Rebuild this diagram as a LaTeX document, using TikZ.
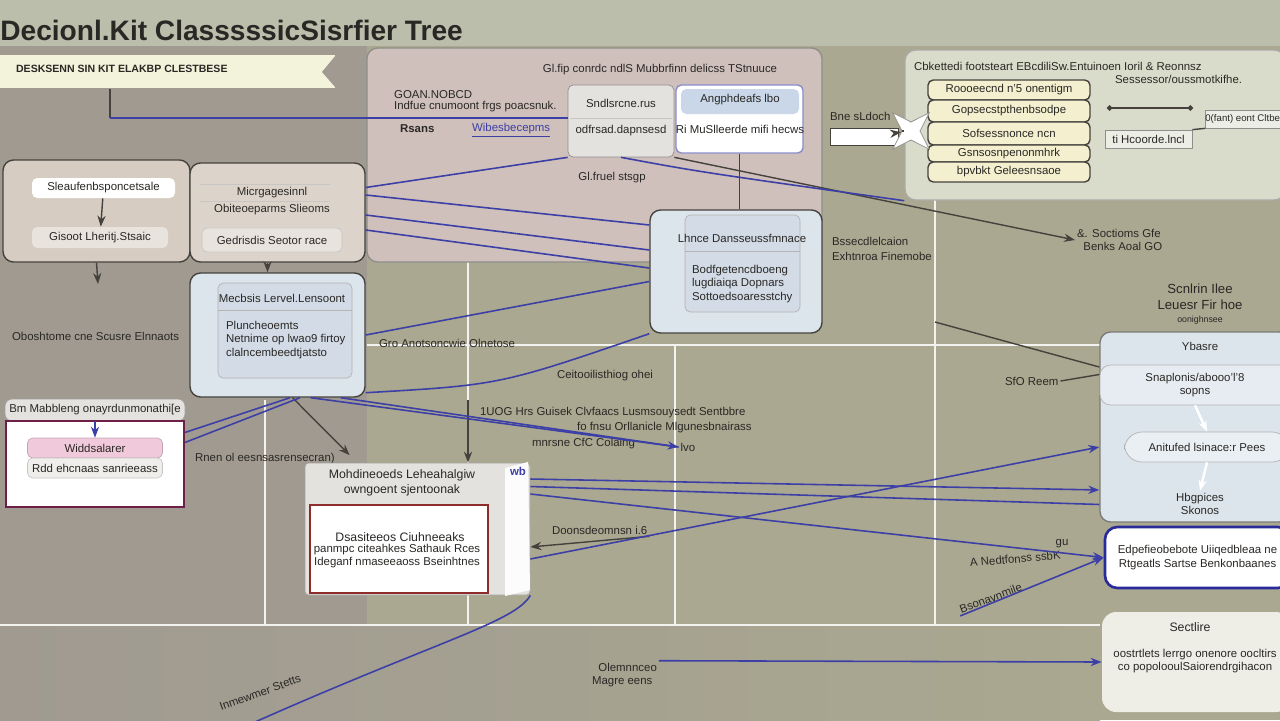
\documentclass[tikz,border=0pt]{standalone}
\usepackage{fontspec}
\setsansfont{Liberation Sans}
\usetikzlibrary{arrows.meta,positioning,calc,shapes.geometric}
\definecolor{ink}{HTML}{2A2825}
\definecolor{edge}{HTML}{45423D}
\definecolor{olive}{HTML}{AAA890}
\definecolor{band}{HTML}{BCBEAC}
\definecolor{warm}{HTML}{A09A91}
\definecolor{ribbon}{HTML}{F3F2DA}
\definecolor{pinkp}{HTML}{CFC0BC}
\definecolor{tan}{HTML}{D6CCC2}
\definecolor{rpan}{HTML}{DADCCB}
\definecolor{yrowc}{HTML}{F3EFCF}
\definecolor{bluebox}{HTML}{DCE4EC}
\definecolor{bluein}{HTML}{D2DBE6}
\definecolor{lblue}{HTML}{C9D7E9}
\definecolor{wire}{HTML}{3C3FA6}
\definecolor{wire2}{HTML}{2A2B9A}
\definecolor{redb}{HTML}{8E2B2B}
\definecolor{crimson}{HTML}{6E1F45}
\definecolor{pinkrow}{HTML}{F0C9DA}
\definecolor{kgray}{HTML}{E4E2DE}
\definecolor{nfill}{HTML}{EEEEE6}
\newcommand{\tinyfont}{\fontsize{6.5}{7.8}\selectfont}
\tikzset{
  font=\sffamily\tinyfont,
  wh/.style 2 args={minimum width=#1*0.02cm, minimum height=#2*0.02cm},
  panel/.style={draw=edge, rounded corners=6pt, line width=0.8pt, inner sep=0pt},
  box/.style={draw=edge!60, rounded corners=3pt, fill=white, inner sep=0pt, text=ink, align=center},
  yrow/.style={box, fill=yrowc, draw=edge, line width=0.8pt},
  txt/.style={text=ink, inner sep=1pt},
  bline/.style={draw=wire, line width=0.9pt},
  dline/.style={draw=edge, line width=0.8pt},
  arrow/.style={-{Stealth[length=2.2mm]}},
  gridline/.style={draw=white!85!olive, line width=0.9pt},
}

\begin{document}
\begin{tikzpicture}[x=0.02cm, y=-0.02cm]
% backdrop
\useasboundingbox (0,0) rectangle (1280,720);
\fill[olive] (0,0) rectangle (1280,720);
\fill[band] (0,0) rectangle (1280,46);
\fill[warm] (0,46) rectangle (367,625);
\shade[left color=warm, right color=olive] (0,625) rectangle (1100,720);
\foreach \y/\a/\b in {345/367/1100, 625/0/1100} {\draw[gridline] (\a,\y) -- (\b,\y);}
\foreach \x/\a/\b in {265/400/625, 468/262/625, 675/345/625, 935/200/625} {\draw[gridline] (\x,\a) -- (\x,\b);}

\node[anchor=west, inner sep=0pt, text=ink, font=\sffamily\bfseries\fontsize{16}{18}\selectfont] (title) at (0,30) {Decionl.Kit ClasssssicSisrfier Tree};

% ribbon
\node[fill=ribbon, wh={335}{33}, inner sep=0pt, anchor=north west] (banner) at (0,55) {};
\fill[warm] (336,55) -- (322,72) -- (336,88) -- cycle;
\node[txt, anchor=west, font=\sffamily\bfseries\fontsize{6}{7}\selectfont] (bantxt) at (14,69) {DESKSENN SIN KIT ELAKBP CLESTBESE};

% pink panel
\node[panel, fill=pinkp, draw=edge!60, wh={455}{214}] (pinkp) at (594.5,155) {};
\node[txt] (hdrA) at (660,70) {Gl.fip conrdc ndlS Mubbrfinn delicss TStnuuce};
\node[txt, anchor=west] (goan) at (392,95) {GOAN.NOBCD};
\node[txt, anchor=west] (indf) at (392,107) {Indfue cnumoont frgs poacsnuk.};
\node[txt, anchor=west, font=\sffamily\bfseries\tinyfont] (rsans) at (398,129) {Rsans};
\node[txt, anchor=west, text=wire] (wibes) at (470,130) {\underline{Wibesbecepms}};
\node[box, fill=kgray, wh={106}{72}] (boxA) at (621,121) {};
\node[txt] (a1) at (621,103) {Sndlsrcne.rus};
\node[txt] (a2) at (621,131) {odfrsad.dapnsesd};
\draw[edge!30] (570,118) -- (672,118);
\node[box, draw=wire!60, line width=0.8pt, wh={127}{68}] (boxB) at (739.5,119) {};
\fill[lblue, rounded corners=3pt] (681,89) rectangle (799,114);
\node[txt] (b1) at (740,100) {Angphdeafs lbo};
\node[txt] (b2) at (740,129) {Ri MuSlleerde mifi hecws};
\node[txt] (glf) at (612,178) {Gl.fruel stsgp};

% right panel
\node[panel, fill=rpan, draw=edge!45, wh={380}{150}] (rpanel) at (1095,125) {};
\node[txt, anchor=west] (hdrR) at (912,66) {Cbkettedi footsteart EBcdiliSw.Entuinoen Ioril \& Reonnsz};
\node[txt, anchor=west] (sess) at (1113,79) {Sessessor/oussmotkifhe.};
\foreach \n/\y/\h/\t in {1/90/20/{Roooeecnd n'5 onentigm}, 2/111/22/{Gopsecstpthenbsodpe}, 3/133.5/23/{Sofsessnonce ncn}, 4/153.5/17/{Gsnsosnpenonmhrk}, 5/172/20/{bpvbkt Geleesnsaoe}}
  {\node[yrow, wh={162}{\h}] (y\n) at (1009,\y) {\t};}
\coordinate (r1) at (1107,108);
\coordinate (r2) at (1193,108);
\draw[dline, {Circle[length=3pt]}-{Circle[length=3pt]}] (r1) -- (r2);
\node[box, rounded corners=0pt, fill=rpan!50!white, wh={73}{18}, anchor=west, font=\sffamily\fontsize{5.5}{6.5}\selectfont] (boxC) at (1205,119) {0(fant) eont Cltbe};
\node[box, rounded corners=0pt, fill=rpan!50!white, wh={87}{18}] (boxD) at (1148.5,139) {ti Hcoorde.lncl};
\draw[dline] (boxD.north east) -- (boxC.south west);

% left panels
\node[panel, fill=tan, wh={187}{102}] (panE) at (96.5,211) {};
\node[box, draw=none, wh={143}{20}] (e1) at (103.5,188) {Sleaufenbsponcetsale};
\node[box, draw=none, fill=tan!55!white, wh={136}{21}] (e2) at (100,237.5) {Gisoot Lheritj.Stsaic};
\node[panel, fill=tan!85!white, wh={175}{99}] (panF) at (277.5,212.5) {};
\node[txt] (f1) at (272,193) {Micrgagesinnl};
\node[txt] (f2) at (272,210) {Obiteoeparms Slieoms};
\node[box, fill=tan!55!white, draw=edge!30, wh={140}{24}] (f3) at (272,240) {Gedrisdis Seotor race};
\draw[edge!30] (200,184) -- (330,184) (200,201) -- (330,201);

\node[panel, fill=bluebox, wh={175}{124}] (boxG) at (277.5,335) {};
\node[box, fill=bluein, draw=edge!40, wh={134}{95}] (gin) at (285,330.5) {};
\node[txt] (g1) at (282,298) {Mecbsis Lervel.Lensoont};
\draw[edge!40] (218,310) -- (352,310);
\node[txt, anchor=west, align=left] (g2) at (224,340) {Pluncheoemts\\Netnime op lwao9 firtoy\\clalncembeedtjatsto};

\node[panel, fill=bluebox, wh={172}{123}] (boxH) at (736,271.5) {};
\node[box, fill=bluein, draw=edge!40, wh={115}{97}] (hin) at (742.5,263.5) {};
\node[txt] (h1) at (742,238) {Lhnce Dansseussfmnace};
\draw[edge!40] (685,251) -- (800,251);
\node[txt, anchor=west, align=left] (h2) at (690,284) {Bodfgetencdboeng\\lugdiaiqa Dopnars\\Sottoedsoaresstchy};

% loose labels
\node[txt, anchor=west, align=left] (bssec) at (830,249) {Bssecdlelcaion\\[1pt]Exhtnroa Finemobe};
\node[txt, anchor=west, align=left] (soct) at (1075,240) {\&. Soctioms Gfe\\\ \ Benks Aoal GO};
\node[txt, anchor=west] (bne) at (828,116) {Bne sLdoch};
\node[box, rounded corners=0pt, draw=edge, wh={68}{17}] (wbox) at (864,137) {};
\node[star, star points=4, star point ratio=0.35, fill=white, draw=edge!60, minimum size=0.36cm, inner sep=0pt] (spark) at (911,131) {};
\node[txt, anchor=west] (obos) at (10,336) {Oboshtome cne Scusre Elnnaots};
\node[txt, anchor=west] (gro) at (377,343) {Gro Anotsoncwie Olnetose};
\node[txt, anchor=west] (ceit) at (555,376) {Ceitooilisthiog ohei};
\node[txt, anchor=west] (rnen) at (193,459) {Rnen ol eesnsasrensecran)};
\node[txt, anchor=west] (uog) at (478,413) {1UOG Hrs Guisek Clvfaacs Lusmsouysedt Sentbbre};
\node[txt, anchor=west] (fofn) at (575,428) {fo fnsu Orllanicle Mlgunesbnairass};
\node[txt, anchor=west] (hirs) at (530,444) {mnrsne CfC Colaing};
\node[txt] (lvo) at (688,447) {lvo};
\node[txt, anchor=west] (doon) at (550,530) {Doonsdeomnsn i.6};
\node[txt, align=center, font=\sffamily\fontsize{7.5}{9}\selectfont] (scn) at (1200,297) {Scnlrin Ilee\\Leuesr Fir hoe};
\node[txt, font=\sffamily\fontsize{5}{6}\selectfont] (oon) at (1200,320) {oonighnsee};
\node[txt, anchor=west] (sfo) at (1003,381) {SfO Reem};
\node[txt] (gu) at (1062,544) {gu};
\node[txt, anchor=west, rotate=5] (nedt) at (968,563) {A Nedtfonss ssbK};
\node[txt, anchor=west, rotate=20] (bson) at (958,610) {Bsonavnmile};
\node[txt, align=left, anchor=west] (olem) at (590,675) {\ \ Olemnnceo\\Magre eens};
\node[txt, anchor=west, rotate=20] (inme) at (218,708) {Inmewmer Stetts};

% bottom left
\node[box, fill=kgray, draw=edge!50, rounded corners=4pt, wh={180}{22}] (jtab) at (95,410) {Bm Mabbleng onayrdunmonathi[e};
\node[box, draw=crimson, line width=1.2pt, rounded corners=0pt, wh={178}{86}] (boxJ) at (95,464) {};
\node[box, fill=pinkrow, draw=crimson!40, wh={135}{20}] (j1) at (95,448) {Widdsalarer};
\node[box, fill=kgray!60!white, draw=edge!30, wh={135}{20}] (j2) at (95,468) {Rdd ehcnaas sanrieeass};

\node[box, fill=kgray, draw=edge!50, rounded corners=2pt, wh={225}{132}] (boxK) at (417.5,529) {};
\fill[white!90!kgray] (505,468) -- (528,462) -- (530,590) -- (505,596) -- cycle;
\node[txt, align=center, font=\sffamily\fontsize{7}{8.5}\selectfont] (k1) at (402,483) {Mohdineoeds Leheahalgiw\\owngoent sjentoonak};
\node[box, draw=redb, line width=1.2pt, rounded corners=0pt, wh={178}{88}] (kin) at (399,549) {};
\node[txt, font=\sffamily\fontsize{7}{8.5}\selectfont] (k2) at (400,537) {Dsasiteeos Ciuhneeaks};
\node[txt, align=center] (k3) at (397,556) {panmpc citeahkes Sathauk Rces\\Ideganf nmaseeaoss Bseinhtnes};
\node[txt, text=wire, font=\sffamily\bfseries\tinyfont] (wb) at (518,471) {wb};

% right stack
\node[panel, fill=bluebox, draw=edge!70, wh={190}{190}] (boxL) at (1195,427) {};
\node[txt] (l1) at (1200,346) {Ybasre};
\node[box, fill=bluebox!70!white, draw=edge!40, rounded corners=6pt, wh={190}{40}, align=center] (l2) at (1195,385) {Snaplonis/abooo'l'8\\sopns};
\node[box, fill=bluebox!60!white, draw=edge!40, rounded corners=10pt, wh={165}{30}] (l3) at (1207,447) {Anitufed lsinace:r Pees};
\node[txt, align=center] (l4) at (1200,504) {Hbgpices\\Skonos};
\node[box, draw=wire2, line width=1.5pt, rounded corners=7pt, wh={185}{61}] (boxM) at (1197.5,557.5) {Edpefieobebote Uiiqedbleaa ne\\Rtgeatls Sartse Benkonbaanes};
\node[box, fill=nfill, draw=none, rounded corners=8pt, wh={188}{100}] (boxN) at (1196,662) {};
\node[txt, font=\sffamily\fontsize{7}{8.5}\selectfont] (n1) at (1190,627) {Sectlire};
\node[txt, align=center] (n2) at (1195,661) {oostrtlets lerrgo onenore oocltirs\\co popolooulSaiorendrgihacon};

% connectors
\coordinate (bend) at (110,118);
\draw[dline] (banner.south -| bend) -- (bend);
\draw[bline] (bend) -- (boxA.west |- bend);
\draw[bline] ([yshift=0.5cm]panF.east) -- (boxA.south west);
\foreach \s/\t in {0.35/0.93, -0.05/0.43, -0.35/0.07}
  {\draw[bline] ([yshift=\s cm]panF.east) -- ([yshift=\t cm]boxH.west);}
\draw[dline, arrow] (boxA.south east) -- (soct.west);
\draw[bline] (boxA.south) .. controls (700,172) .. (rpanel.south west);
\draw[dline] (boxB.south) -- (boxH.north -| boxB.south);
\draw[dline, arrow] (e1) -- (e2);
\coordinate (eout) at (98,284);
\draw[dline, arrow] (panE.south) -- (eout);
\draw[dline, arrow] ([xshift=-0.2cm]panF.south) -- ([xshift=-0.2cm]boxG.north);
\draw[bline] (boxG.east) -- ([yshift=-0.2cm]boxH.west);
\draw[bline] ([yshift=0.1cm]boxG.south east) .. controls (500,385) .. (boxH.south west);
\draw[dline, arrow] ([xshift=0.3cm]boxG.south) -- ([xshift=0.9cm,yshift=0.15cm]boxK.north west);
\coordinate (vt) at (468,400);
\draw[dline, arrow] (vt) -- (vt |- boxK.north);
\draw[bline] ([yshift=-0.25cm]boxJ.north east) -- ([xshift=0.25cm]boxG.south);
\draw[bline] ([yshift=-0.45cm]boxJ.north east) -- ([xshift=0.45cm]boxG.south);
\draw[bline, arrow] (jtab.south) -- (j1.north);
\draw[bline, arrow] ([xshift=-0.5cm]boxG.south east) -- (lvo.west);
\draw[bline] ([xshift=-1.1cm]boxG.south east) -- (lvo.west);
\draw[dline, arrow] (doon.south east) -- ([yshift=-0.36cm]boxK.east);
\draw[bline, arrow] ([yshift=1.0cm]boxK.east) -- ([yshift=-1.26cm]boxL.west);
\draw[bline] ([yshift=0.85cm]boxK.east) -- ([yshift=-1.55cm]boxL.west);
\draw[bline, arrow] ([yshift=-0.6cm]boxK.east) -- ([yshift=-0.4cm]boxL.west);
\draw[bline, arrow] ([yshift=0.7cm]boxK.east) -- (boxM.west);
\draw[bline, arrow] (bson.south west) -- (boxM.west);
\coordinate (sfo0) at (935,322);
\draw[dline] (sfo0) -- ([yshift=1.2cm]boxL.west);
\draw[dline] (sfo.east) -- ([yshift=1.05cm]boxL.west);
\draw[white, line width=1.4pt, arrow] (l2.south) -- (l3.north);
\draw[white, line width=1.4pt, arrow] (l3.south) -- (l4.north);
\draw[bline, arrow] (olem.north east) -- (boxN.west);
\coordinate (llow) at (255,722);
\draw[bline] (llow) .. controls (440,640) and (515,622) .. (boxK.south east);
\draw[dline, arrow] (wbox) -- (spark);
\draw[dline] (spark) -- (rpanel.west |- spark);
\end{tikzpicture}
\end{document}
